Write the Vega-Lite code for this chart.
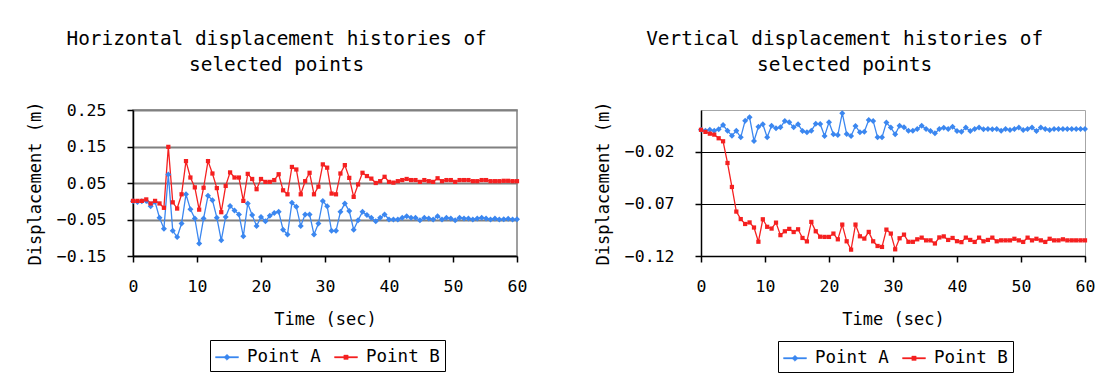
{
 "$schema": "https://vega.github.io/schema/vega-lite/v6.json",
 "background": "white",
 "padding": {"left": 25, "top": 27, "right": 0, "bottom": 0},
 "data": {"values": [
{"t":0,"s":"Point A","h":0.000,"v":0.001},{"t":0.69,"s":"Point A","h":-0.002,"v":0.000},{"t":1.38,"s":"Point A","h":0.000,"v":0.001},{"t":2.07,"s":"Point A","h":0.001,"v":0.000},{"t":2.76,"s":"Point A","h":-0.014,"v":0.0015},{"t":3.45,"s":"Point A","h":-0.002,"v":0.0056},{"t":4.14,"s":"Point A","h":-0.045,"v":0.000},{"t":4.83,"s":"Point A","h":-0.075,"v":-0.0046},{"t":5.52,"s":"Point A","h":0.073,"v":0.000},{"t":6.21,"s":"Point A","h":-0.081,"v":-0.0062},
{"t":6.9,"s":"Point A","h":-0.098,"v":0.0098},{"t":7.59,"s":"Point A","h":-0.061,"v":0.013},{"t":8.28,"s":"Point A","h":0.019,"v":-0.0097},{"t":8.97,"s":"Point A","h":-0.022,"v":0.004},{"t":9.66,"s":"Point A","h":-0.047,"v":0.0063},{"t":10.34,"s":"Point A","h":-0.116,"v":-0.0062},{"t":11.03,"s":"Point A","h":-0.047,"v":0.005},{"t":11.72,"s":"Point A","h":0.015,"v":0.0024},{"t":12.41,"s":"Point A","h":0.003,"v":0.0034},{"t":13.1,"s":"Point A","h":-0.045,"v":0.0095},
{"t":13.79,"s":"Point A","h":-0.107,"v":0.0082},{"t":14.48,"s":"Point A","h":-0.043,"v":0.0034},{"t":15.17,"s":"Point A","h":-0.013,"v":0.0063},{"t":15.86,"s":"Point A","h":-0.025,"v":-0.0001},{"t":16.55,"s":"Point A","h":-0.036,"v":-0.0014},{"t":17.24,"s":"Point A","h":-0.096,"v":0.0002},{"t":17.93,"s":"Point A","h":-0.006,"v":0.0068},{"t":18.62,"s":"Point A","h":-0.038,"v":0.0066},{"t":19.31,"s":"Point A","h":-0.068,"v":-0.0049},{"t":20,"s":"Point A","h":-0.043,"v":0.0082},
{"t":20.69,"s":"Point A","h":-0.055,"v":-0.0033},{"t":21.38,"s":"Point A","h":-0.040,"v":-0.004},{"t":22.07,"s":"Point A","h":-0.032,"v":0.0169},{"t":22.76,"s":"Point A","h":-0.029,"v":-0.003},{"t":23.45,"s":"Point A","h":-0.078,"v":-0.0049},{"t":24.14,"s":"Point A","h":-0.091,"v":0.0047},{"t":24.83,"s":"Point A","h":-0.004,"v":-0.0014},{"t":25.52,"s":"Point A","h":-0.015,"v":-0.0008},{"t":26.21,"s":"Point A","h":-0.068,"v":0.0104},{"t":26.9,"s":"Point A","h":-0.036,"v":0.0095},
{"t":27.59,"s":"Point A","h":-0.036,"v":-0.0062},{"t":28.28,"s":"Point A","h":-0.091,"v":-0.0062},{"t":28.97,"s":"Point A","h":-0.061,"v":0.0079},{"t":29.66,"s":"Point A","h":0.001,"v":0.0031},{"t":30.34,"s":"Point A","h":-0.014,"v":-0.0033},{"t":31.03,"s":"Point A","h":-0.081,"v":0.005},{"t":31.72,"s":"Point A","h":-0.081,"v":0.0034},{"t":32.41,"s":"Point A","h":-0.029,"v":0.0002},{"t":33.1,"s":"Point A","h":-0.006,"v":0.0002},{"t":33.79,"s":"Point A","h":-0.027,"v":0.0018},
{"t":34.48,"s":"Point A","h":-0.078,"v":0.005},{"t":35.17,"s":"Point A","h":-0.052,"v":0.0018},{"t":35.86,"s":"Point A","h":-0.029,"v":-0.0001},{"t":36.55,"s":"Point A","h":-0.038,"v":-0.0024},{"t":37.24,"s":"Point A","h":-0.045,"v":0.0018},{"t":37.93,"s":"Point A","h":-0.055,"v":0.003},{"t":38.62,"s":"Point A","h":-0.045,"v":0.0018},{"t":39.31,"s":"Point A","h":-0.036,"v":0.004},{"t":40,"s":"Point A","h":-0.050,"v":-0.0001},{"t":40.69,"s":"Point A","h":-0.050,"v":-0.0008},
{"t":41.38,"s":"Point A","h":-0.050,"v":0.0031},{"t":42.07,"s":"Point A","h":-0.045,"v":-0.0001},{"t":42.76,"s":"Point A","h":-0.041,"v":0.0018},{"t":43.45,"s":"Point A","h":-0.045,"v":0.0031},{"t":44.14,"s":"Point A","h":-0.045,"v":0.0015},{"t":44.83,"s":"Point A","h":-0.052,"v":0.0018},{"t":45.52,"s":"Point A","h":-0.045,"v":0.0015},{"t":46.21,"s":"Point A","h":-0.047,"v":0.0018},{"t":46.9,"s":"Point A","h":-0.050,"v":0.0002},{"t":47.59,"s":"Point A","h":-0.041,"v":0.0018},
{"t":48.28,"s":"Point A","h":-0.050,"v":0.0008},{"t":48.97,"s":"Point A","h":-0.045,"v":0.0018},{"t":49.66,"s":"Point A","h":-0.047,"v":0.0031},{"t":50.34,"s":"Point A","h":-0.052,"v":0.0008},{"t":51.03,"s":"Point A","h":-0.045,"v":0.0018},{"t":51.72,"s":"Point A","h":-0.047,"v":0.0031},{"t":52.41,"s":"Point A","h":-0.047,"v":-0.0001},{"t":53.1,"s":"Point A","h":-0.050,"v":0.0031},{"t":53.79,"s":"Point A","h":-0.047,"v":0.0018},{"t":54.48,"s":"Point A","h":-0.045,"v":0.0008},
{"t":55.17,"s":"Point A","h":-0.047,"v":0.0018},{"t":55.86,"s":"Point A","h":-0.050,"v":0.0018},{"t":56.55,"s":"Point A","h":-0.047,"v":0.0018},{"t":57.24,"s":"Point A","h":-0.050,"v":0.0018},{"t":57.93,"s":"Point A","h":-0.049,"v":0.0018},{"t":58.62,"s":"Point A","h":-0.048,"v":0.0018},{"t":59.31,"s":"Point A","h":-0.050,"v":0.0018},{"t":60,"s":"Point A","h":-0.049,"v":0.0018},
{"t":0,"s":"Point B","h":0.001,"v":0.001},{"t":0.69,"s":"Point B","h":0.001,"v":-0.001},{"t":1.38,"s":"Point B","h":0.001,"v":-0.0027},{"t":2.07,"s":"Point B","h":0.005,"v":-0.0036},{"t":2.76,"s":"Point B","h":-0.006,"v":-0.0071},{"t":3.45,"s":"Point B","h":0.001,"v":-0.010},{"t":4.14,"s":"Point B","h":-0.006,"v":-0.0308},{"t":4.83,"s":"Point B","h":-0.018,"v":-0.0538},{"t":5.52,"s":"Point B","h":0.149,"v":-0.0774},{"t":6.21,"s":"Point B","h":-0.003,"v":-0.0846},
{"t":6.9,"s":"Point B","h":-0.020,"v":-0.0893},{"t":7.59,"s":"Point B","h":0.019,"v":-0.0878},{"t":8.28,"s":"Point B","h":0.110,"v":-0.0927},{"t":8.97,"s":"Point B","h":0.065,"v":-0.1063},{"t":9.66,"s":"Point B","h":0.038,"v":-0.0848},{"t":10.34,"s":"Point B","h":-0.023,"v":-0.092},{"t":11.03,"s":"Point B","h":0.037,"v":-0.0937},{"t":11.72,"s":"Point B","h":0.110,"v":-0.088},{"t":12.41,"s":"Point B","h":0.076,"v":-0.100},{"t":13.1,"s":"Point B","h":0.036,"v":-0.0963},
{"t":13.79,"s":"Point B","h":-0.030,"v":-0.094},{"t":14.48,"s":"Point B","h":0.042,"v":-0.097},{"t":15.17,"s":"Point B","h":0.079,"v":-0.0944},{"t":15.86,"s":"Point B","h":0.065,"v":-0.1027},{"t":16.55,"s":"Point B","h":0.065,"v":-0.106},{"t":17.24,"s":"Point B","h":0.001,"v":-0.0873},{"t":17.93,"s":"Point B","h":0.075,"v":-0.0963},{"t":18.62,"s":"Point B","h":0.061,"v":-0.1015},{"t":19.31,"s":"Point B","h":0.033,"v":-0.1017},{"t":20,"s":"Point B","h":0.061,"v":-0.1017},
{"t":20.69,"s":"Point B","h":0.053,"v":-0.0985},{"t":21.38,"s":"Point B","h":0.053,"v":-0.104},{"t":22.07,"s":"Point B","h":0.058,"v":-0.0899},{"t":22.76,"s":"Point B","h":0.074,"v":-0.1059},{"t":23.45,"s":"Point B","h":0.030,"v":-0.1139},{"t":24.14,"s":"Point B","h":0.019,"v":-0.0899},{"t":24.83,"s":"Point B","h":0.094,"v":-0.1011},{"t":25.52,"s":"Point B","h":0.087,"v":-0.1033},{"t":26.21,"s":"Point B","h":0.019,"v":-0.0969},{"t":26.9,"s":"Point B","h":0.055,"v":-0.1059},
{"t":27.59,"s":"Point B","h":0.078,"v":-0.1104},{"t":28.28,"s":"Point B","h":0.019,"v":-0.1113},{"t":28.97,"s":"Point B","h":0.040,"v":-0.0947},{"t":29.66,"s":"Point B","h":0.101,"v":-0.0985},{"t":30.34,"s":"Point B","h":0.092,"v":-0.1136},{"t":31.03,"s":"Point B","h":0.021,"v":-0.103},{"t":31.72,"s":"Point B","h":0.019,"v":-0.0995},{"t":32.41,"s":"Point B","h":0.076,"v":-0.1064},{"t":33.1,"s":"Point B","h":0.099,"v":-0.1064},{"t":33.79,"s":"Point B","h":0.064,"v":-0.104},
{"t":34.48,"s":"Point B","h":0.012,"v":-0.1024},{"t":35.17,"s":"Point B","h":0.046,"v":-0.105},{"t":35.86,"s":"Point B","h":0.078,"v":-0.105},{"t":36.55,"s":"Point B","h":0.069,"v":-0.108},{"t":37.24,"s":"Point B","h":0.062,"v":-0.1022},{"t":37.93,"s":"Point B","h":0.050,"v":-0.1012},{"t":38.62,"s":"Point B","h":0.055,"v":-0.1046},{"t":39.31,"s":"Point B","h":0.067,"v":-0.1027},{"t":40,"s":"Point B","h":0.053,"v":-0.1058},{"t":40.69,"s":"Point B","h":0.051,"v":-0.1067},
{"t":41.38,"s":"Point B","h":0.055,"v":-0.1024},{"t":42.07,"s":"Point B","h":0.058,"v":-0.1046},{"t":42.76,"s":"Point B","h":0.061,"v":-0.1065},{"t":43.45,"s":"Point B","h":0.058,"v":-0.1024},{"t":44.14,"s":"Point B","h":0.058,"v":-0.1059},{"t":44.83,"s":"Point B","h":0.053,"v":-0.1046},{"t":45.52,"s":"Point B","h":0.058,"v":-0.1024},{"t":46.21,"s":"Point B","h":0.055,"v":-0.1059},{"t":46.9,"s":"Point B","h":0.053,"v":-0.105},{"t":47.59,"s":"Point B","h":0.063,"v":-0.105},
{"t":48.28,"s":"Point B","h":0.055,"v":-0.105},{"t":48.97,"s":"Point B","h":0.058,"v":-0.1035},{"t":49.66,"s":"Point B","h":0.058,"v":-0.105},{"t":50.34,"s":"Point B","h":0.053,"v":-0.1065},{"t":51.03,"s":"Point B","h":0.058,"v":-0.1024},{"t":51.72,"s":"Point B","h":0.058,"v":-0.105},{"t":52.41,"s":"Point B","h":0.058,"v":-0.1035},{"t":53.1,"s":"Point B","h":0.055,"v":-0.105},{"t":53.79,"s":"Point B","h":0.055,"v":-0.1065},{"t":54.48,"s":"Point B","h":0.058,"v":-0.1035},
{"t":55.17,"s":"Point B","h":0.058,"v":-0.105},{"t":55.86,"s":"Point B","h":0.055,"v":-0.105},{"t":56.55,"s":"Point B","h":0.055,"v":-0.104},{"t":57.24,"s":"Point B","h":0.055,"v":-0.105},{"t":57.93,"s":"Point B","h":0.056,"v":-0.105},{"t":58.62,"s":"Point B","h":0.056,"v":-0.105},{"t":59.31,"s":"Point B","h":0.055,"v":-0.105},{"t":60,"s":"Point B","h":0.055,"v":-0.105}
 ]},
 "spacing": 65,
 "hconcat": [
  {
   "width": 384, "height": 146,
   "title": {"text": ["Horizontal displacement histories of", "selected points"]},
   "view": {"stroke": "#808080", "strokeWidth": 1.5},
   "encoding": {
    "x": {"field": "t", "type": "quantitative", "scale": {"domain": [0, 60], "nice": false}, "axis": {"values": [0, 10, 20, 30, 40, 50, 60], "format": "d", "title": "Time (sec)"}},
    "y": {"field": "h", "type": "quantitative", "scale": {"domain": [-0.15, 0.25], "nice": false, "zero": false}, "axis": {"values": [-0.15, -0.05, 0.05, 0.15, 0.25], "format": ".2f", "title": "Displacement (m)", "gridColor": "#808080", "gridWidth": 1.8}}
   },
   "layer": [
    {"mark": {"type": "line", "strokeWidth": 1.3},
     "encoding": {"color": {"field": "s", "type": "nominal", "scale": {"domain": ["Point A", "Point B"], "range": ["#3b87f0", "#f52020"]},
      "legend": {"orient": "none", "legendX": 77, "legendY": 230, "direction": "horizontal", "title": null}}}},
    {"mark": {"type": "point", "filled": true, "opacity": 0},
     "encoding": {
      "color": {"field": "s", "type": "nominal", "scale": {"domain": ["Point A", "Point B"], "range": ["#3b87f0", "#f52020"]},
       "legend": {"orient": "none", "legendX": 77, "legendY": 230, "direction": "horizontal", "title": null}},
      "shape": {"field": "s", "type": "nominal", "scale": {"domain": ["Point A", "Point B"], "range": ["M-1,-0.055H1V0.055H-1Z M0,-0.27L0.27,0L0,0.27L-0.27,0Z", "M-1,-0.055H1V0.055H-1Z M-0.19,-0.19H0.19V0.19H-0.19Z"]},
       "legend": {"orient": "none", "legendX": 77, "legendY": 230, "direction": "horizontal", "title": null}}}},
    {"transform": [{"filter": "datum.s === 'Point A'"}], "mark": {"type": "point", "filled": true, "opacity": 1, "shape": "diamond", "size": 36, "color": "#3b87f0"}},
    {"transform": [{"filter": "datum.s === 'Point B'"}], "mark": {"type": "point", "filled": true, "opacity": 1, "shape": "square", "size": 18, "color": "#f52020"}}
   ]
  },
  {
   "width": 384, "height": 146,
   "title": {"text": ["Vertical displacement histories of", "selected points"]},
   "view": {"stroke": "#a6a6a6", "strokeWidth": 1},
   "encoding": {
    "x": {"field": "t", "type": "quantitative", "scale": {"domain": [0, 60], "nice": false}, "axis": {"values": [0, 10, 20, 30, 40, 50, 60], "format": "d", "title": "Time (sec)"}},
    "y": {"field": "v", "type": "quantitative", "scale": {"domain": [-0.12, 0.02], "nice": false, "zero": false}, "axis": {"values": [-0.12, -0.07, -0.02], "format": ".2f", "title": "Displacement (m)", "gridColor": "#000000", "gridWidth": 1}}
   },
   "layer": [
    {"mark": {"type": "line", "strokeWidth": 1.3},
     "encoding": {"color": {"field": "s", "type": "nominal", "scale": {"domain": ["Point A", "Point B"], "range": ["#3b87f0", "#f52020"]},
      "legend": {"orient": "none", "legendX": 77, "legendY": 231, "direction": "horizontal", "title": null}}}},
    {"mark": {"type": "point", "filled": true, "opacity": 0},
     "encoding": {
      "color": {"field": "s", "type": "nominal", "scale": {"domain": ["Point A", "Point B"], "range": ["#3b87f0", "#f52020"]},
       "legend": {"orient": "none", "legendX": 77, "legendY": 231, "direction": "horizontal", "title": null}},
      "shape": {"field": "s", "type": "nominal", "scale": {"domain": ["Point A", "Point B"], "range": ["M-1,-0.055H1V0.055H-1Z M0,-0.27L0.27,0L0,0.27L-0.27,0Z", "M-1,-0.055H1V0.055H-1Z M-0.19,-0.19H0.19V0.19H-0.19Z"]},
       "legend": {"orient": "none", "legendX": 77, "legendY": 231, "direction": "horizontal", "title": null}}}},
    {"transform": [{"filter": "datum.s === 'Point A'"}], "mark": {"type": "point", "filled": true, "opacity": 1, "shape": "diamond", "size": 36, "color": "#3b87f0"}},
    {"transform": [{"filter": "datum.s === 'Point B'"}], "mark": {"type": "point", "filled": true, "opacity": 1, "shape": "square", "size": 18, "color": "#f52020"}}
   ]
  }
 ],
 "resolve": {"scale": {"color": "independent", "shape": "independent"}, "legend": {"color": "independent", "shape": "independent"}},
 "config": {
  "font": "DejaVu Sans Mono",
  "axis": {"labelFont": "DejaVu Sans Mono", "labelFontSize": 16.5, "labelColor": "#000000", "titleFont": "DejaVu Sans Mono", "titleFontSize": 17, "titleFontWeight": "normal", "titleColor": "#000000", "domainColor": "#000000", "domainWidth": 1.5, "tickColor": "#000000", "tickWidth": 1.5, "tickSize": 6},
  "axisX": {"grid": false, "labelPadding": 16, "titlePadding": 17, "labelFlush": false, "labelDx": -5},
  "axisY": {"labelPadding": 21, "titlePadding": 12},
  "title": {"font": "DejaVu Sans Mono", "fontSize": 19.4, "fontWeight": "normal", "color": "#000000", "lineHeight": 26, "anchor": "middle", "frame": "bounds", "offset": 26},
  "legend": {"strokeColor": "#000000", "padding": 5, "symbolSize": 529, "symbolStrokeWidth": 0.4, "symbolOpacity": 1, "labelFont": "DejaVu Sans Mono", "labelFontSize": 17.5, "labelColor": "#000000", "labelOffset": 8, "columnPadding": 12}
 }
}
